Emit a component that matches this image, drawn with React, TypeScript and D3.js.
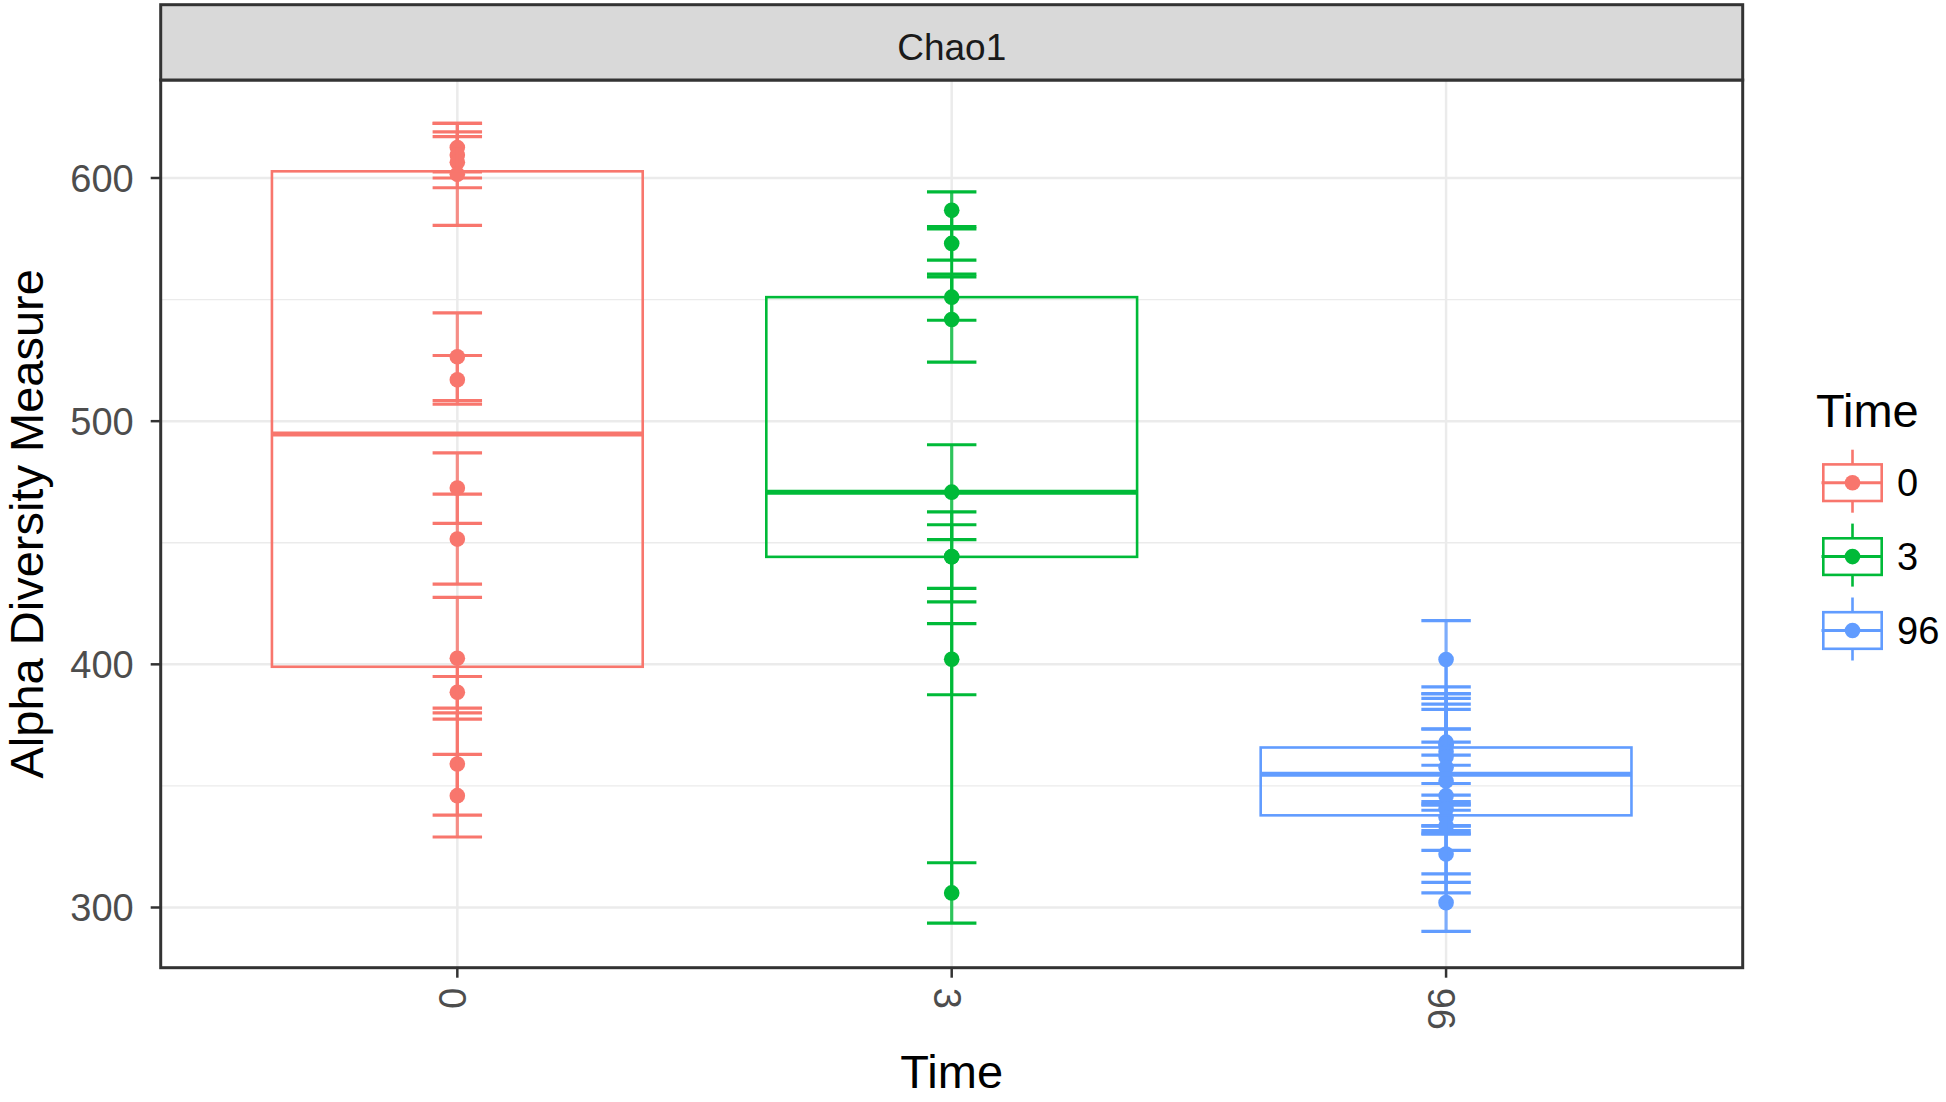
import React from 'react'
import * as d3 from 'd3'

// Chao1 richness per sample, grouped by Time
const groups = ['0', '3', '96']
const groupColors = ['#F8766D', '#00BA38', '#619CFF']

const chao0 = [612.5, 609.5, 606.5, 601.5, 526.5, 517, 472.5, 451.5, 402.5, 388.5, 359, 346]
const se0 = [10, 9.5, 10.5, 21, 18, 10, 14.5, 18.5, 25, 6.5, 21, 17]

const chao3 = [586.7, 573.1, 551, 541.8, 470.8, 444.3, 444.2, 402.1, 306]
const se3 = [7.6, 6.9, 9.5, 17.5, 19.5, 13.1, 18.5, 14.6, 12.4]

const chao96 = [402, 368, 367, 366.4, 364, 362, 357.6, 352, 346, 340.6, 337, 333.5, 322, 302]
const se96 = [16, 5.3, 20.8, 24.3, 24, 19.5, 26, 21.5, 12.5, 10.4, 31, 10, 11.7, 11.8]

const yTicks = [300, 400, 500, 600]
const yMinor = [350, 450, 550]

const values = [chao0, chao3, chao96]
const errors = [se0, se3, se96]

const width = 1946
const height = 1102
const panel = {left: 160.7, right: 1742.7, top: 80, bottom: 967.7}
const stripTop = 4.7
const font = 'Liberation Sans, Arial, Helvetica, sans-serif'

function boxStats(v: number[]) {
    const s = v.slice().sort(d3.ascending)
    const q1 = d3.quantileSorted(s, 0.25)!
    const med = d3.quantileSorted(s, 0.5)!
    const q3 = d3.quantileSorted(s, 0.75)!
    const iqr = q3 - q1
    const lo = d3.min(s.filter(d => d >= q1 - 1.5 * iqr))!
    const hi = d3.max(s.filter(d => d <= q3 + 1.5 * iqr))!
    return {q1, med, q3, lo, hi}
}

export default function App() {
    const x = d3.scalePoint<string>().domain(groups).range([panel.left, panel.right]).padding(0.6)
    const y = d3.scaleLinear().domain([300, 600]).range([907.5, 178])
    const step = x.step()
    const boxW = 0.75 * step
    const capW = 0.1 * step
    const cx = (panel.left + panel.right) / 2

    const legendY = d3.scalePoint<string>().domain(groups).range([482.7, 630.5])

    return (
        <svg width={width} height={height} style={{position: 'absolute', left: 0, top: 0, background: '#fff'}}
             fontFamily={font}>
            {/* panel grid */}
            <rect x={panel.left} y={panel.top} width={panel.right - panel.left} height={panel.bottom - panel.top} fill="#fff"/>
            {yMinor.map(t => (
                <line key={'mn' + t} x1={panel.left} x2={panel.right} y1={y(t)} y2={y(t)} stroke="#EBEBEB" strokeWidth={1.3}/>
            ))}
            {yTicks.map(t => (
                <line key={'mj' + t} x1={panel.left} x2={panel.right} y1={y(t)} y2={y(t)} stroke="#EBEBEB" strokeWidth={2.5}/>
            ))}
            {groups.map(g => (
                <line key={'vg' + g} x1={x(g)} x2={x(g)} y1={panel.top} y2={panel.bottom} stroke="#EBEBEB" strokeWidth={2.5}/>
            ))}

            {/* error bars and points */}
            {groups.map((g, gi) => {
                const px = x(g)!
                const col = groupColors[gi]
                return (
                    <g key={'eb' + g} stroke={col} strokeWidth={3.2}>
                        {values[gi].map((v, i) => {
                            const lo = y(v - errors[gi][i])
                            const hi = y(v + errors[gi][i])
                            return (
                                <g key={i}>
                                    <line x1={px} x2={px} y1={lo} y2={hi} strokeOpacity={0.8}/>
                                    <line x1={px - capW / 2} x2={px + capW / 2} y1={lo} y2={lo}/>
                                    <line x1={px - capW / 2} x2={px + capW / 2} y1={hi} y2={hi}/>
                                </g>
                            )
                        })}
                    </g>
                )
            })}
            {groups.map((g, gi) => (
                <g key={'pt' + g} fill={groupColors[gi]}>
                    {values[gi].map((v, i) => (
                        <circle key={i} cx={x(g)} cy={y(v)} r={7.8}/>
                    ))}
                </g>
            ))}

            {/* boxplots */}
            {groups.map((g, gi) => {
                const s = boxStats(values[gi])
                const px = x(g)!
                const col = groupColors[gi]
                return (
                    <g key={'bx' + g} stroke={col} fill="none">
                        <line x1={px} x2={px} y1={y(s.q3)} y2={y(s.hi)} strokeWidth={3}/>
                        <line x1={px} x2={px} y1={y(s.q1)} y2={y(s.lo)} strokeWidth={3}/>
                        <rect x={px - boxW / 2} y={y(s.q3)} width={boxW} height={y(s.q1) - y(s.q3)} strokeWidth={2.6}/>
                        <line x1={px - boxW / 2} x2={px + boxW / 2} y1={y(s.med)} y2={y(s.med)} strokeWidth={5}/>
                    </g>
                )
            })}

            {/* panel border and strip */}
            <rect x={panel.left} y={panel.top} width={panel.right - panel.left} height={panel.bottom - panel.top}
                  fill="none" stroke="#333" strokeWidth={3}/>
            <rect x={panel.left} y={stripTop} width={panel.right - panel.left} height={panel.top - stripTop}
                  fill="#D9D9D9" stroke="#333" strokeWidth={3}/>
            <text x={cx} y={60} textAnchor="middle" fontSize={37} fill="#1A1A1A">Chao1</text>

            {/* y axis */}
            {yTicks.map(t => (
                <g key={'yt' + t}>
                    <line x1={panel.left - 10} x2={panel.left} y1={y(t)} y2={y(t)} stroke="#333" strokeWidth={2.5}/>
                    <text x={panel.left - 27} y={y(t) + 13.6} textAnchor="end" fontSize={38} fill="#4D4D4D">{t}</text>
                </g>
            ))}
            <text transform={`translate(43, ${(panel.top + panel.bottom) / 2}) rotate(-90)`} textAnchor="middle"
                  fontSize={47} fill="#000">Alpha Diversity Measure</text>

            {/* x axis */}
            {groups.map(g => (
                <g key={'xt' + g}>
                    <line x1={x(g)} x2={x(g)} y1={panel.bottom} y2={panel.bottom + 10} stroke="#333" strokeWidth={2.5}/>
                    <text transform={`translate(${x(g)! - 5}, ${panel.bottom + 20}) rotate(90)`} textAnchor="start"
                          dominantBaseline="central" fontSize={38} fill="#4D4D4D">{g}</text>
                </g>
            ))}
            <text x={cx} y={1088} textAnchor="middle" fontSize={47} fill="#000">Time</text>

            {/* legend */}
            <text x={1816} y={427} fontSize={47} fill="#000">Time</text>
            {groups.map((g, gi) => {
                const ky = legendY(g)!
                const kx = 1852.5
                const col = groupColors[gi]
                return (
                    <g key={'lg' + g}>
                        <g stroke={col} fill="none" strokeWidth={2.6}>
                            <line x1={kx} x2={kx} y1={ky - 33} y2={ky + 30}/>
                            <rect x={kx - 29.2} y={ky - 18.3} width={58.4} height={36.6} fill="#fff"/>
                            <line x1={kx - 31} x2={kx + 29.2} y1={ky} y2={ky} strokeWidth={3}/>
                        </g>
                        <circle cx={kx} cy={ky} r={7.8} fill={col}/>
                        <text x={1897} y={ky + 13.6} fontSize={38} fill="#000">{g}</text>
                    </g>
                )
            })}
        </svg>
    )
}
